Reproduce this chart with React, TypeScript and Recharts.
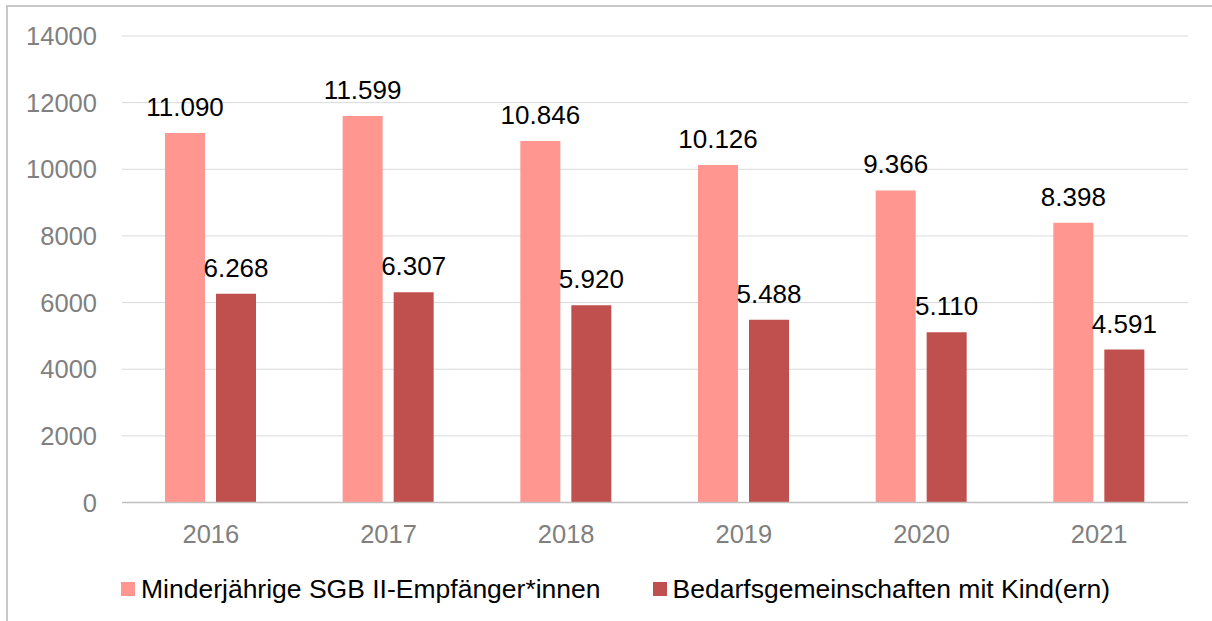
import React from 'react';
import {
  BarChart,
  Bar,
  XAxis,
  YAxis,
  CartesianGrid,
  Legend,
  LabelList,
} from 'recharts';

// Jahre (X-Achse)
const years = ['2016', '2017', '2018', '2019', '2020', '2021'];
// Minderjährige SGB II-Empfänger*innen
const minors = [11090, 11599, 10846, 10126, 9366, 8398];
// Bedarfsgemeinschaften mit Kind(ern)
const households = [6268, 6307, 5920, 5488, 5110, 4591];
const yTicks = [0, 2000, 4000, 6000, 8000, 10000, 12000, 14000];

const seriesNames = {
  minors: 'Minderjährige SGB II-Empfänger*innen',
  households: 'Bedarfsgemeinschaften mit Kind(ern)',
};

const PINK = '#FF9790';
const DARK = '#C0504D';
const FONT = '"Liberation Sans", Arial, sans-serif';

const data = years.map((year, i) => ({
  year,
  minors: minors[i],
  households: households[i],
}));

// German thousands separator, e.g. 11.090
const formatDe = (v: any) => String(v).replace(/\B(?=(\d{3})+(?!\d))/g, '.');

// fixed order like in the original (Recharts would sort by name)
const legendItems = [
  { key: 'minors', label: seriesNames.minors, color: PINK },
  { key: 'households', label: seriesNames.households, color: DARK },
];

const CustomLegend = () => (
  <div
    style={{
      display: 'flex',
      height: 50,
      alignItems: 'flex-start',
      paddingLeft: 121,
      paddingTop: 11,
      boxSizing: 'border-box',
      fontFamily: FONT,
      fontSize: 26.5,
      color: '#000',
      gap: 52,
    }}
  >
    {legendItems.map((item) => (
      <div key={item.key} style={{ display: 'flex', alignItems: 'center', height: 14 }}>
        <span style={{ width: 14, height: 14, background: item.color, marginRight: 6 }} />
        <span style={{ lineHeight: 1, whiteSpace: 'nowrap' }}>{item.label}</span>
      </div>
    ))}
  </div>
);

export default function App() {
  return (
    <div style={{ position: 'fixed', left: 0, top: 0, width: 1212, height: 621, background: '#fff', overflow: 'hidden' }}>
      {/* frame of the embedded chart box */}
      <svg width={1212} height={621} style={{ position: 'absolute', left: 0, top: 0 }}>
        <path d="M7 621 L7 6 L1212 6" fill="none" stroke="#c8c8c8" strokeWidth={2} />
      </svg>
      <div style={{ position: 'absolute', left: 0, top: 0 }}>
        <BarChart
          width={1212}
          height={621}
          data={data}
          margin={{ top: 36, right: 24, left: 0, bottom: 0 }}
          barGap={11}
          barSize={40}
        >
          <CartesianGrid vertical={false} stroke="#d9d9d9" />
          <XAxis
            dataKey="year"
            height={68.5}
            axisLine={{ stroke: '#bfbfbf', strokeWidth: 1.5 }}
            tickLine={false}
            tickSize={0}
            tickMargin={22}
            tick={{ fill: '#808080', fontSize: 25.5, fontFamily: FONT }}
          />
          <YAxis
            width={122}
            domain={[0, 14000]}
            ticks={yTicks}
            axisLine={false}
            tickLine={false}
            tickSize={0}
            tickMargin={25}
            tick={{ fill: '#808080', fontSize: 25.5, fontFamily: FONT }}
          />
          <Legend verticalAlign="bottom" content={<CustomLegend />} />
          <Bar dataKey="minors" name={seriesNames.minors} fill={PINK} isAnimationActive={false}>
            <LabelList
              dataKey="minors"
              position="top"
              offset={17}
              formatter={formatDe}
              fill="#000"
              fontSize={26}
              fontFamily={FONT}
            />
          </Bar>
          <Bar dataKey="households" name={seriesNames.households} fill={DARK} isAnimationActive={false}>
            <LabelList
              dataKey="households"
              position="top"
              offset={17}
              formatter={formatDe}
              fill="#000"
              fontSize={26}
              fontFamily={FONT}
            />
          </Bar>
        </BarChart>
      </div>
    </div>
  );
}
